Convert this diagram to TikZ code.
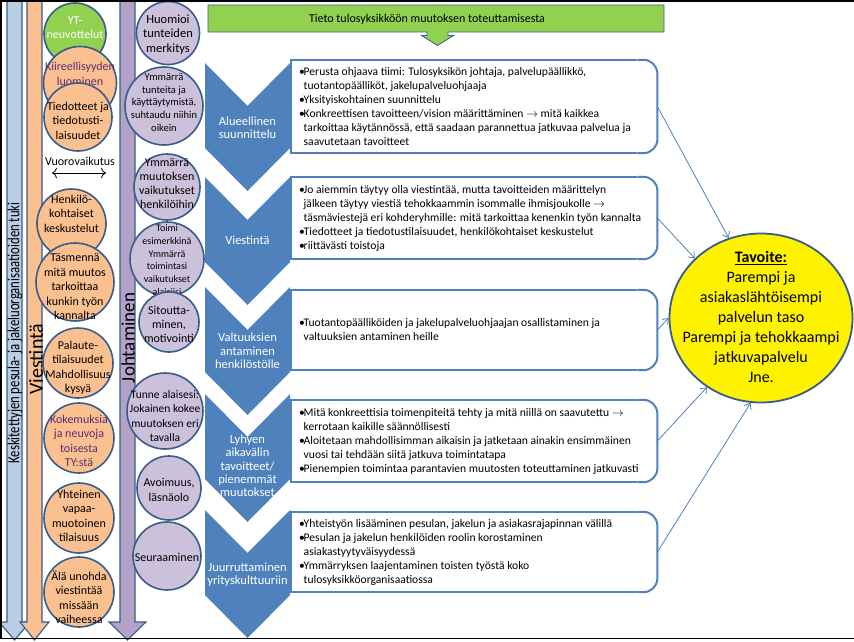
\documentclass[tikz,border=0pt]{standalone}
\usepackage{fontspec}
\usepackage{graphicx}
\setmainfont{Carlito}
\usetikzlibrary{shapes.geometric,arrows.meta}
\definecolor{chevblue}{HTML}{4F81BD}
\definecolor{edgeblue}{HTML}{385D8A}
\definecolor{barblue}{HTML}{B9CDE5}
\definecolor{barorange}{HTML}{FAC090}
\definecolor{barpurple}{HTML}{B3A2C7}
\definecolor{circpurple}{HTML}{CCC1DA}
\definecolor{topgreen}{HTML}{92D050}
\definecolor{textpurple}{HTML}{5A2D6E}
\newcommand\bitem{\makebox[4.5pt][l]{\textbullet}}
\newcommand\bcont{\hspace*{4.5pt}}

\begin{document}
\begin{tikzpicture}[x=1pt,y=-1pt]
    \tikzstyle{bar} = [draw=edgeblue, line width=1.1pt]
    \tikzstyle{ora} = [circle, draw=edgeblue, line width=1.6pt, fill=barorange, inner sep=0pt]
    \tikzstyle{pur} = [circle, draw=edgeblue, line width=1.6pt, fill=circpurple, inner sep=0pt]
    \tikzstyle{otext} = [align=center, inner sep=0pt, font=\fontsize{12}{14.5}\selectfont]
    \tikzstyle{ptext} = [align=center, inner sep=0pt, font=\fontsize{12}{14}\selectfont]
    \tikzstyle{chev} = [fill=chevblue]
    \tikzstyle{chevtext} = [text=white, align=center, font=\fontsize{12.5}{13.3}\selectfont]
    \tikzstyle{box} = [rectangle, fill=white, rounded corners=14pt, minimum width=366pt, inner sep=0pt, anchor=west]
    \tikzstyle{btext} = [anchor=west, xshift=5pt, inner sep=3pt, align=left, font=\fontsize{11.6}{14}\selectfont]
    \tikzstyle{boxline} = [draw=chevblue, line width=2pt]
    \tikzstyle{link} = [draw=chevblue, line width=0.8pt, -{Straight Barb[length=5pt,width=8pt]}]

    \useasboundingbox (0,0) rectangle (854,642);
    \fill[white] (0,0) rectangle (854,642);

    \draw[bar, fill=barblue] (7,-2) -- (22,-2) -- (22,622) -- (30,622) -- (14.5,640) -- (-1,622) -- (7,622) -- cycle;
    \draw[bar, fill=barorange] (27,-2) -- (42,-2) -- (42,622) -- (49,622) -- (34.5,640) -- (20,622) -- (27,622) -- cycle;
    \draw[bar, fill=barpurple] (120,-2) -- (135,-2) -- (135,622) -- (146,622) -- (127.5,640) -- (109,622) -- (120,622) -- cycle;
    \node[rotate=90, font=\fontsize{17}{17}\selectfont] (support) at (15,333) {\scalebox{0.75}[1]{Keskitettyjen pesula- ja jakeluorganisaatioiden tuki}};
    \node[rotate=90, font=\fontsize{20}{20}\selectfont] (comm) at (36,359) {Viestintä};
    \node[rotate=90, font=\fontsize{19}{19}\selectfont] (lead) at (128,338) {Johtaminen};

    \node[circle, draw=edgeblue, line width=1.6pt, fill=topgreen, inner sep=0pt, minimum size=62pt,
        label={[otext, text=white, yshift=6.5pt]center:{YT-\\neuvottelut}}] (yt) at (75,34) {};
    \node[ora, minimum size=73pt, label={[otext, text=textpurple, yshift=9pt]center:{Kiireellisyyden\\luominen}}] (urgency) at (80,83) {};
    \node[ora, minimum size=68pt, label={[otext, yshift=-3.5pt]center:{Tiedotteet ja\\tiedotusti-\\laisuudet}}] (bulletins) at (78,117) {};
    \node[font=\fontsize{12}{14}\selectfont] (interact) at (80,161) {Vuorovaikutus};
    \coordinate (il) at (52,173);
    \coordinate (ir) at (106,173);
    \draw[{To[length=5pt]}-{To[length=5pt]}, line width=0.8pt] (il) -- (ir);
    \node[ora, minimum size=69pt, label={[otext, yshift=10pt]center:{Henkilö-\\kohtaiset\\keskustelut}}] (talks) at (71.5,223.5) {};
    \node[ora, minimum size=78pt, label={[otext, yshift=-5pt]center:{Täsmennä\\mitä muutos\\tarkoittaa\\kunkin työn\\kannalta}}] (specify) at (75,282) {};
    \node[ora, minimum size=70pt, label={[otext, yshift=-5pt]center:{Palaute-\\tilaisuudet\\Mahdollisuus\\kysyä}}] (feedback) at (78,363) {};
    \node[ora, minimum size=70pt, label={[otext, text=textpurple, yshift=-3pt]center:{Kokemuksia\\ja neuvoja\\toisesta\\TY:stä}}] (experience) at (79,438) {};
    \node[ora, minimum size=70pt, label={[otext, yshift=2pt]center:{Yhteinen\\vapaa-\\muotoinen\\tilaisuus}}] (event) at (79,518) {};
    \node[ora, minimum size=70pt, label={[otext, yshift=-5pt]center:{Älä unohda\\viestintää\\missään\\vaiheessa}}] (remember) at (79,592) {};

    \node[pur, minimum size=63pt, label={[ptext, font=\fontsize{12.5}{14.5}\selectfont, yshift=-1.5pt]center:{Huomioi\\tunteiden\\merkitys}}] (feelings) at (168,33) {};
    \node[pur, minimum size=78pt, label={[ptext, font=\fontsize{10.5}{12.8}\selectfont, yshift=3.5pt]center:{Ymmärrä\\tunteita ja\\käyttäytymistä,\\suhtaudu niihin\\oikein}}] (behaviour) at (164,106) {};
    \node[pur, minimum size=66pt, label={[ptext, yshift=3pt]center:{Ymmärrä\\muutoksen\\vaikutukset\\henkilöihin}}] (effects) at (167,187) {};
    \node[pur, minimum size=74pt, label={[ptext, font=\fontsize{10}{12.8}\selectfont, yshift=-1pt]center:{Toimi\\esimerkkinä\\Ymmärrä\\toimintasi\\vaikutukset\\alaisiisi}}] (example) at (167,259) {};
    \node[pur, minimum size=60pt, label={[ptext, yshift=-2pt]center:{Sitoutta-\\minen,\\motivointi}}] (motivate) at (169,322) {};
    \node[pur, minimum size=76pt, label={[ptext, font=\fontsize{11.5}{14.5}\selectfont, yshift=-5pt]center:{Tunne alaisesi:\\Jokainen kokee\\muutoksen eri\\tavalla}}] (know) at (165,411) {};
    \node[pur, minimum size=64pt, label={[ptext, font=\fontsize{12}{15}\selectfont, yshift=-2pt]center:{Avoimuus,\\läsnäolo}}] (open) at (169,488) {};
    \node[pur, minimum size=68pt, label={[ptext, yshift=-1pt]center:{Seuraaminen}}] (follow) at (167,556) {};

    \draw[draw=edgeblue, line width=0.8pt, fill=topgreen] (208,5) -- (664,5) -- (664,32) -- (448,32) -- (448,35.5) -- (453.5,35.5) -- (437.5,45.5) -- (421.5,35.5) -- (427,35.5) -- (427,32) -- (208,32) -- cycle;
    \node[font=\fontsize{12}{14}\selectfont] (info) at (427,19) {Tieto tulosyksikköön muutoksen toteuttamisesta};

    \fill[chev] (205,63) -- (247.5,106) -- (290,63) -- (290,148) -- (247.5,191) -- (205,148) -- cycle;
    \fill[chev] (205,177) -- (247.5,220) -- (290,177) -- (290,262) -- (247.5,305) -- (205,262) -- cycle;
    \fill[chev] (205,287) -- (247.5,330) -- (290,287) -- (290,372) -- (247.5,415) -- (205,372) -- cycle;
    \fill[chev] (205,394) -- (247.5,437) -- (290,394) -- (290,479) -- (247.5,522) -- (205,479) -- cycle;
    \fill[chev] (205,510) -- (247.5,553) -- (290,510) -- (290,595) -- (247.5,638) -- (205,595) -- cycle;
    \node[chevtext] (ch1) at (247.5,128) {Alueellinen\\suunnittelu};
    \node[chevtext] (ch2) at (247.5,240) {Viestintä};
    \node[chevtext] (ch3) at (247.5,351) {Valtuuksien\\antaminen\\henkilöstölle};
    \node[chevtext] (ch4) at (247.5,466) {Lyhyen\\aikavälin\\tavoitteet/\\pienemmät\\muutokset};
    \node[chevtext] (ch5) at (247.5,575) {Juurruttaminen\\yrityskulttuuriin};

    \node[box, minimum height=93pt, label={[btext]west:{\bitem Perusta ohjaava tiimi: Tulosyksikön johtaja, palvelupäällikkö,\\
        \bcont tuotantopäälliköt, jakelupalveluohjaaja\\
        \bitem Yksityiskohtainen suunnittelu\\
        \bitem Konkreettisen tavoitteen/vision määrittäminen \ensuremath{\rightarrow} mitä kaikkea\\
        \bcont tarkoittaa käytännössä, että saadaan parannettua jatkuvaa palvelua ja\\
        \bcont saavutetaan tavoitteet}}] (b1) at (291,106.5) {};
    \node[box, minimum height=82pt, label={[btext]west:{\bitem Jo aiemmin täytyy olla viestintää, mutta tavoitteiden määrittelyn\\
        \bcont jälkeen täytyy viestiä tehokkaammin isommalle ihmisjoukolle \ensuremath{\rightarrow}\\
        \bcont täsmäviestejä eri kohderyhmille: mitä tarkoittaa kenenkin työn kannalta\\
        \bitem Tiedotteet ja tiedotustilaisuudet, henkilökohtaiset keskustelut\\
        \bitem riittävästi toistoja}}] (b2) at (291,218) {};
    \node[box, minimum height=80pt, label={[btext]west:{\bitem Tuotantopäälliköiden ja jakelupalveluohjaajan osallistaminen ja\\
        \bcont valtuuksien antaminen heille}}] (b3) at (291,330) {};
    \node[box, minimum height=82pt, label={[btext]west:{\bitem Mitä konkreettisia toimenpiteitä tehty ja mitä niillä on saavutettu \ensuremath{\rightarrow}\\
        \bcont kerrotaan kaikille säännöllisesti\\
        \bitem Aloitetaan mahdollisimman aikaisin ja jatketaan ainakin ensimmäinen\\
        \bcont vuosi tai tehdään siitä jatkuva toimintatapa\\
        \bitem Pienempien toimintaa parantavien muutosten toteuttaminen jatkuvasti}}] (b4) at (291,441) {};
    \node[box, minimum height=80pt, label={[btext]west:{\bitem Yhteistyön lisääminen pesulan, jakelun ja asiakasrajapinnan välillä\\
        \bitem Pesulan ja jakelun henkilöiden roolin korostaminen\\
        \bcont asiakastyytyväisyydessä\\
        \bitem Ymmärryksen laajentaminen toisten työstä koko\\
        \bcont tulosyksikköorganisaatiossa}}] (b5) at (291,552) {};

    \draw[boxline] ([xshift=-20pt]b1.north east) -- (b1.north west) -- (b1.south west) -- ([xshift=-20pt]b1.south east);
    \draw[boxline, rounded corners=14pt] ([xshift=-20pt]b1.north east) -- (b1.north east) -- (b1.south east) -- ([xshift=-20pt]b1.south east);
    \draw[boxline] ([xshift=-20pt]b2.north east) -- (b2.north west) -- (b2.south west) -- ([xshift=-20pt]b2.south east);
    \draw[boxline, rounded corners=14pt] ([xshift=-20pt]b2.north east) -- (b2.north east) -- (b2.south east) -- ([xshift=-20pt]b2.south east);
    \draw[boxline] ([xshift=-20pt]b3.north east) -- (b3.north west) -- (b3.south west) -- ([xshift=-20pt]b3.south east);
    \draw[boxline, rounded corners=14pt] ([xshift=-20pt]b3.north east) -- (b3.north east) -- (b3.south east) -- ([xshift=-20pt]b3.south east);
    \draw[boxline] ([xshift=-20pt]b4.north east) -- (b4.north west) -- (b4.south west) -- ([xshift=-20pt]b4.south east);
    \draw[boxline, rounded corners=14pt] ([xshift=-20pt]b4.north east) -- (b4.north east) -- (b4.south east) -- ([xshift=-20pt]b4.south east);
    \draw[boxline] ([xshift=-20pt]b5.north east) -- (b5.north west) -- (b5.south west) -- ([xshift=-20pt]b5.south east);
    \draw[boxline, rounded corners=14pt] ([xshift=-20pt]b5.north east) -- (b5.north east) -- (b5.south east) -- ([xshift=-20pt]b5.south east);

    \node[ellipse, draw=edgeblue, line width=1.8pt, fill=yellow, minimum width=183pt, minimum height=169pt,
        label={[align=center, font=\fontsize{16}{20}\selectfont, yshift=1pt]center:{\underline{\textbf{Tavoite:}}\\Parempi ja\\asiakaslähtöisempi\\palvelun taso\\Parempi ja tehokkaampi\\jatkuvapalvelu\\Jne.}}] (goal) at (761,318) {};

    \draw[link] (b1.east) -- (goal.112);
    \draw[link] (b2.east) -- (goal.138);
    \draw[link] (b3.east) -- (goal.180);
    \draw[link] (b4.east) -- (goal.232);
    \draw[link] (b5.east) -- (goal.263);

    \draw[line width=1.5pt] (854,1) -- (1,1) -- (1,638.5) -- (854,638.5);
\end{tikzpicture}
\end{document}
